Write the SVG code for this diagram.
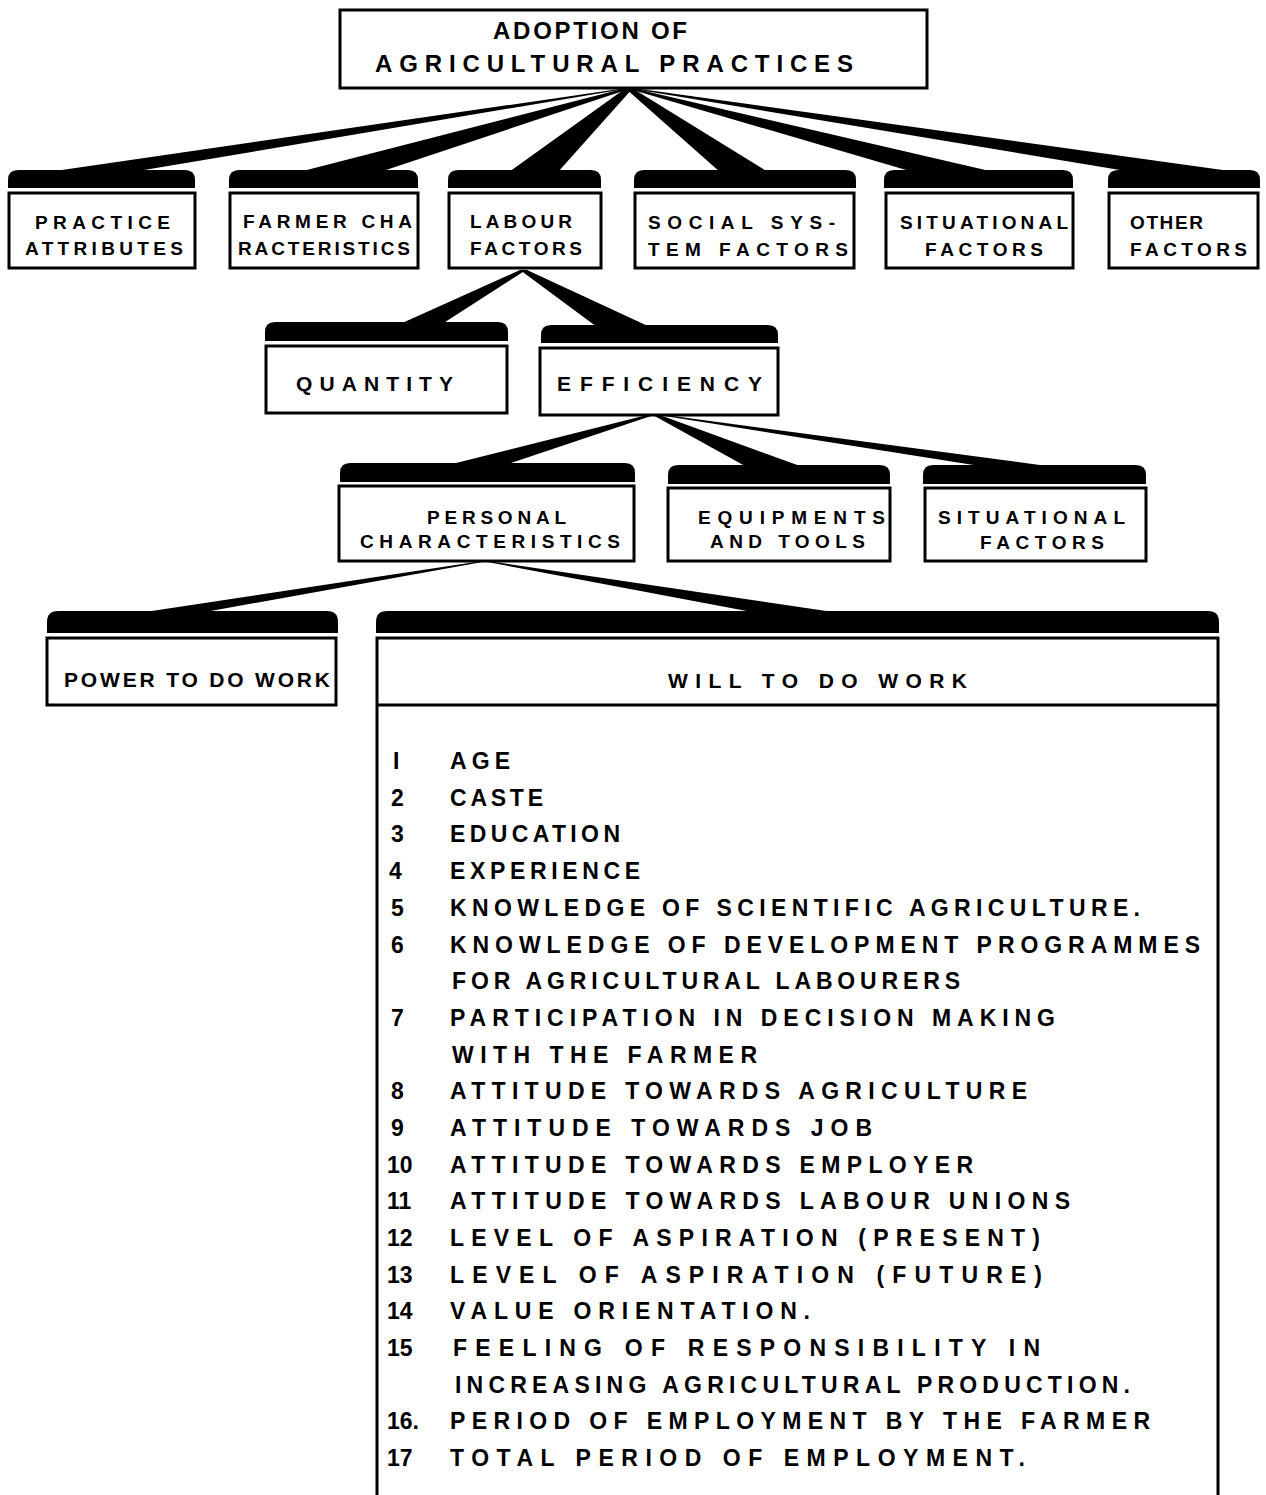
<svg xmlns="http://www.w3.org/2000/svg" width="1266" height="1495" viewBox="0 0 1266 1495">
<style>
.box{fill:#fff;stroke:#000;stroke-width:3}
.cap{fill:#000}
.wedge{fill:#000}
text{font-family:"Liberation Sans",Arial,sans-serif;font-weight:bold;fill:#000}
.t1{font-size:24px}
.t2{font-size:19px}
.t3{font-size:21px}
.li{font-size:23px}
</style>
<rect width="1266" height="1495" fill="#fff"/>
<g id="connectors">
<polygon class="wedge" points="626,88 631,88 132,172 48,172"/>
<polygon class="wedge" points="626,88 632,88 380,172 299,172"/>
<polygon class="wedge" points="626,88 633,88 558,172 509,172"/>
<polygon class="wedge" points="625,88 632,88 768,172 720,172"/>
<polygon class="wedge" points="626,88 632,88 994,172 913,172"/>
<polygon class="wedge" points="627,88 633,88 1237,172 1132,172"/>
<polygon class="wedge" points="520,270 526,270 442,324 400,324"/>
<polygon class="wedge" points="520,270 527,270 650,327 597,327"/>
<polygon class="wedge" points="651,414 657,414 508,464 452,464"/>
<polygon class="wedge" points="651,414 657,414 800,466 745,466"/>
<polygon class="wedge" points="652,414 658,414 1047,466 980,466"/>
<polygon class="wedge" points="482,561 488,561 205,612 145,612"/>
<polygon class="wedge" points="482,561 488,561 833,612 752,612"/>
</g>
<g id="n-adoption">
<rect class="box" x="340" y="10" width="587" height="78"/>
<text class="t1" x="493" y="39" textLength="194" lengthAdjust="spacing">ADOPTION OF</text>
<text class="t1" x="375" y="72" textLength="478" lengthAdjust="spacing">AGRICULTURAL PRACTICES</text>
</g>
<g id="n-practice">
<path class="cap" d="M8,188 L8,180 Q8,170 18,170 L185,170 Q195,170 195,180 L195,188 Z"/>
<rect class="box" x="9" y="193" width="186" height="75"/>
<text class="t2" x="35" y="229" textLength="135" lengthAdjust="spacing">PRACTICE</text>
<text class="t2" x="25" y="255" textLength="158" lengthAdjust="spacing">ATTRIBUTES</text>
</g>
<g id="n-farmer">
<path class="cap" d="M229,188 L229,180 Q229,170 239,170 L408,170 Q418,170 418,180 L418,188 Z"/>
<rect class="box" x="230" y="193" width="188" height="75"/>
<text class="t2" x="243" y="228" textLength="169" lengthAdjust="spacing">FARMER CHA</text>
<text class="t2" x="238" y="255" textLength="172" lengthAdjust="spacing">RACTERISTICS</text>
</g>
<g id="n-labour">
<path class="cap" d="M448,188 L448,180 Q448,170 458,170 L591,170 Q601,170 601,180 L601,188 Z"/>
<rect class="box" x="449" y="193" width="152" height="75"/>
<text class="t2" x="470" y="228" textLength="102" lengthAdjust="spacing">LABOUR</text>
<text class="t2" x="470" y="255" textLength="112" lengthAdjust="spacing">FACTORS</text>
</g>
<g id="n-social">
<path class="cap" d="M634,188 L634,180 Q634,170 644,170 L846,170 Q856,170 856,180 L856,188 Z"/>
<rect class="box" x="635" y="193" width="219" height="75"/>
<text class="t2" x="648" y="229" textLength="187" lengthAdjust="spacing">SOCIAL SYS-</text>
<text class="t2" x="648" y="256" textLength="200" lengthAdjust="spacing">TEM FACTORS</text>
</g>
<g id="n-situational1">
<path class="cap" d="M884,188 L884,180 Q884,170 894,170 L1063,170 Q1073,170 1073,180 L1073,188 Z"/>
<rect class="box" x="886" y="193" width="187" height="75"/>
<text class="t2" x="900" y="229" textLength="168" lengthAdjust="spacing">SITUATIONAL</text>
<text class="t2" x="925" y="256" textLength="118" lengthAdjust="spacing">FACTORS</text>
</g>
<g id="n-other">
<path class="cap" d="M1108,188 L1108,180 Q1108,170 1118,170 L1250,170 Q1260,170 1260,180 L1260,188 Z"/>
<rect class="box" x="1109" y="193" width="149" height="75"/>
<text class="t2" x="1130" y="229" textLength="73" lengthAdjust="spacing">OTHER</text>
<text class="t2" x="1130" y="256" textLength="117" lengthAdjust="spacing">FACTORS</text>
</g>
<g id="n-quantity">
<path class="cap" d="M265,341 L265,332 Q265,322 275,322 L498,322 Q508,322 508,332 L508,341 Z"/>
<rect class="box" x="266" y="346" width="241" height="67"/>
<text class="t3" x="296" y="391" textLength="157" lengthAdjust="spacing">QUANTITY</text>
</g>
<g id="n-efficiency">
<path class="cap" d="M541,343 L541,335 Q541,325 551,325 L768,325 Q778,325 778,335 L778,343 Z"/>
<rect class="box" x="540" y="348" width="238" height="67"/>
<text class="t3" x="557" y="391" textLength="205" lengthAdjust="spacing">EFFICIENCY</text>
</g>
<g id="n-personal">
<path class="cap" d="M340,482 L340,473 Q340,463 350,463 L625,463 Q635,463 635,473 L635,482 Z"/>
<rect class="box" x="339" y="486" width="295" height="75"/>
<text class="t2" x="427" y="524" textLength="139" lengthAdjust="spacing">PERSONAL</text>
<text class="t2" x="360" y="548" textLength="260" lengthAdjust="spacing">CHARACTERISTICS</text>
</g>
<g id="n-equipments">
<path class="cap" d="M668,484 L668,475 Q668,465 678,465 L880,465 Q890,465 890,475 L890,484 Z"/>
<rect class="box" x="668" y="488" width="222" height="73"/>
<text class="t2" x="698" y="524" textLength="187" lengthAdjust="spacing">EQUIPMENTS</text>
<text class="t2" x="710" y="548" textLength="155" lengthAdjust="spacing">AND TOOLS</text>
</g>
<g id="n-situational2">
<path class="cap" d="M923,484 L923,475 Q923,465 933,465 L1136,465 Q1146,465 1146,475 L1146,484 Z"/>
<rect class="box" x="925" y="488" width="221" height="73"/>
<text class="t2" x="938" y="524" textLength="187" lengthAdjust="spacing">SITUATIONAL</text>
<text class="t2" x="980" y="549" textLength="124" lengthAdjust="spacing">FACTORS</text>
</g>
<g id="n-power">
<path class="cap" d="M47,633 L47,622 Q47,611 58,611 L327,611 Q338,611 338,622 L338,633 Z"/>
<rect class="box" x="47" y="638" width="289" height="67"/>
<text class="t3" x="64" y="687" textLength="266" lengthAdjust="spacing">POWER TO DO WORK</text>
</g>
<g id="n-will">
<path class="cap" d="M376,633 L376,622 Q376,611 387,611 L1208,611 Q1219,611 1219,622 L1219,633 Z"/>
<path class="box" d="M377,1497 L377,638 L1218,638 L1218,1497 M377,705 L1218,705" fill="none"/>
<text class="t3" x="668" y="688" textLength="299" lengthAdjust="spacing">WILL TO DO WORK</text>
<g class="li">
<text x="393" y="769">I</text><text x="450" y="769" textLength="60" lengthAdjust="spacing">AGE</text>
<text x="391" y="806">2</text><text x="450" y="806" textLength="93" lengthAdjust="spacing">CASTE</text>
<text x="391" y="842">3</text><text x="450" y="842" textLength="170" lengthAdjust="spacing">EDUCATION</text>
<text x="389" y="879">4</text><text x="450" y="879" textLength="190" lengthAdjust="spacing">EXPERIENCE</text>
<text x="391" y="916">5</text><text x="450" y="916" textLength="690" lengthAdjust="spacing">KNOWLEDGE OF SCIENTIFIC AGRICULTURE.</text>
<text x="391" y="953">6</text><text x="450" y="953" textLength="750" lengthAdjust="spacing">KNOWLEDGE OF DEVELOPMENT PROGRAMMES</text>
<text x="452" y="989" textLength="508" lengthAdjust="spacing">FOR AGRICULTURAL LABOURERS</text>
<text x="391" y="1026">7</text><text x="450" y="1026" textLength="605" lengthAdjust="spacing">PARTICIPATION IN DECISION MAKING</text>
<text x="452" y="1063" textLength="305" lengthAdjust="spacing">WITH THE FARMER</text>
<text x="391" y="1099">8</text><text x="450" y="1099" textLength="577" lengthAdjust="spacing">ATTITUDE TOWARDS AGRICULTURE</text>
<text x="391" y="1136">9</text><text x="450" y="1136" textLength="422" lengthAdjust="spacing">ATTITUDE TOWARDS JOB</text>
<text x="387" y="1173">10</text><text x="450" y="1173" textLength="523" lengthAdjust="spacing">ATTITUDE TOWARDS EMPLOYER</text>
<text x="387" y="1209">11</text><text x="450" y="1209" textLength="620" lengthAdjust="spacing">ATTITUDE TOWARDS LABOUR UNIONS</text>
<text x="387" y="1246">12</text><text x="450" y="1246" textLength="590" lengthAdjust="spacing">LEVEL OF ASPIRATION (PRESENT)</text>
<text x="387" y="1283">13</text><text x="450" y="1283" textLength="592" lengthAdjust="spacing">LEVEL OF ASPIRATION (FUTURE)</text>
<text x="387" y="1319">14</text><text x="450" y="1319" textLength="360" lengthAdjust="spacing">VALUE ORIENTATION.</text>
<text x="387" y="1356">15</text><text x="453" y="1356" textLength="587" lengthAdjust="spacing">FEELING OF RESPONSIBILITY IN</text>
<text x="455" y="1393" textLength="675" lengthAdjust="spacing">INCREASING AGRICULTURAL PRODUCTION.</text>
<text x="387" y="1429">16.</text><text x="450" y="1429" textLength="700" lengthAdjust="spacing">PERIOD OF EMPLOYMENT BY THE FARMER</text>
<text x="387" y="1466">17</text><text x="450" y="1466" textLength="575" lengthAdjust="spacing">TOTAL PERIOD OF EMPLOYMENT.</text>
</g>
</g>
</svg>
